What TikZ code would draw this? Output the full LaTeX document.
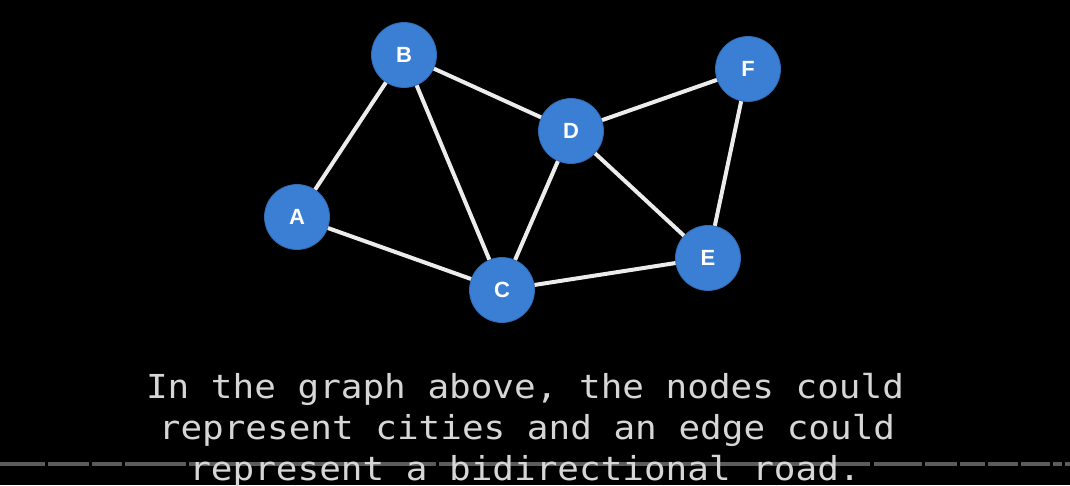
\documentclass[tikz,border=0pt]{standalone}
\usepackage{fontspec}
\newfontfamily\nodefont{Liberation Sans}
\newfontfamily\capfont[FakeStretch=1.09]{DejaVu Sans Mono}
\definecolor{nodeblue}{RGB}{58,127,212}
\definecolor{edgecol}{RGB}{236,236,236}
\definecolor{capcol}{RGB}{214,214,214}
\definecolor{barcol}{RGB}{92,92,92}
\tikzset{
  vert/.style={circle, fill=nodeblue, draw=nodeblue!85!black, line width=0.8pt, minimum size=65pt, inner sep=0pt, text=white, font=\nodefont\bfseries\fontsize{22}{22}\selectfont},
  edge/.style={draw=edgecol, line width=4pt},
  caption/.style={anchor=base, text=capcol, inner sep=0pt, font=\capfont\fontsize{33}{33}\selectfont},
  barseg/.style={draw=barcol, line width=4pt}
}
\begin{document}
\begin{tikzpicture}[x=1pt,y=-1pt]
\fill[black] (0,0) rectangle (1070,485);
\useasboundingbox (0,0) rectangle (1070,485);
% progress bar
\foreach \a/\b in {0/45,48/89,92/122,125/186,189/436,439/870,874/922,925/957,960/985,988/1018,1021/1050,1053/1062,1065/1070}
  \draw[barseg] (\a,464) -- (\b,464);
% nodes
\node[vert] (B) at (404,55) {B};
\node[vert] (F) at (748,69) {F};
\node[vert] (D) at (571,131) {D};
\node[vert] (A) at (297,217) {A};
\node[vert] (C) at (502,290) {C};
\node[vert] (E) at (708,258) {E};
% edges
\draw[edge] (A) -- (B);
\draw[edge] (B) -- (C);
\draw[edge] (B) -- (D);
\draw[edge] (A) -- (C);
\draw[edge] (C) -- (D);
\draw[edge] (D) -- (F);
\draw[edge] (D) -- (E);
\draw[edge] (C) -- (E);
\draw[edge] (E) -- (F);
% caption
\node[caption] (l1) at (525,398) {In the graph above, the nodes could};
\node[caption] (l2) at (527,439) {represent cities and an edge could};
\node[caption] (l3) at (525,480) {represent a bidirectional road.};
\end{tikzpicture}
\end{document}
